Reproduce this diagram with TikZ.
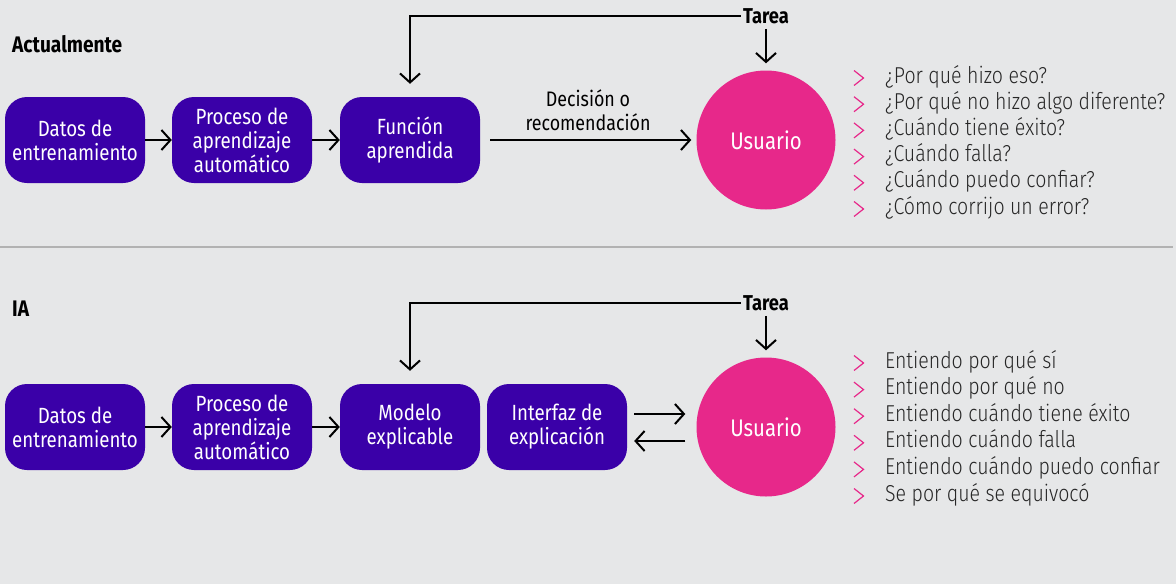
\documentclass[tikz,border=0pt]{standalone}
\usepackage{fontspec}
\setmainfont{Fira Sans}[FakeStretch=0.85]
\newfontfamily\lightfont{Fira Sans Light}[FakeStretch=0.85]
\usetikzlibrary{arrows.meta}
\definecolor{bg}{HTML}{E6E7E8}
\definecolor{purp}{HTML}{3A00A8}
\definecolor{pinku}{HTML}{E7288A}
\definecolor{sepc}{HTML}{B2B2B2}
\begin{document}
\begin{tikzpicture}[x=1pt,y=-1pt,
  box/.style={fill=purp, rounded corners=22pt, minimum width=140pt, minimum height=86pt,
    text=white, align=center, font=\fontsize{22}{24}\selectfont, inner sep=0pt},
  user/.style={circle, fill=pinku, minimum size=139pt, text=white,
    font=\fontsize{24}{28}\selectfont, inner sep=0pt},
  arr/.style={draw=black, line width=2pt, -{Straight Barb[length=9pt,width=20pt,line width=2pt]}},
  tarea/.style={font=\bfseries\fontsize{21.5}{24}\selectfont, inner sep=2pt},
  section/.style={font=\bfseries\fontsize{22.5}{24}\selectfont, anchor=west, inner sep=0pt},
  item/.style={anchor=west, inner sep=0pt, text height=15pt, text depth=5pt,
    font=\lightfont\fontsize{23}{26}\selectfont, text=black!85},
  chev/.style={draw=pinku, line width=1.2pt}
]
\fill[bg] (0,0) rectangle (1176,584);
\useasboundingbox (0,0) rectangle (1176,584);
\draw[sepc, line width=1.5pt] (0,247) -- (1173,247);

% ---------- top section
\node[section] (s1) at (12,44) {Actualmente};
\node[box] (a1) at (75,140) {Datos de\\entrenamiento};
\node[box] (a2) at (242,140) {Proceso de\\aprendizaje\\automático};
\node[box] (a3) at (410,140) {Función\\aprendida};
\node[user] (u1) at (766,140) {Usuario};
\node[tarea] (t1) at (766,16) {Tarea};
\node[align=center, font=\fontsize{21}{24}\selectfont] (d1) at (588,110) {Decisión o\\recomendación};

\draw[arr] (a1) -- (a2);
\draw[arr] (a2) -- (a3);
\draw[arr] ([xshift=10pt]a3.east) -- ([xshift=-5pt]u1.west);
\draw[arr, shorten >=13pt] (t1.west) -| (a3.north);
\draw[arr, shorten <=3pt, shorten >=7pt] (t1.south) -- (u1.north);

\foreach \t [count=\i from 0] in {¿Por qué hizo eso?,¿Por qué no hizo algo diferente?,¿Cuándo tiene éxito?,¿Cuándo falla?,¿Cuándo puedo confiar?,¿Cómo corrijo un error?}{
  \node[item] (q\i) at (885,78+26.2*\i) {\t};
  \draw[chev] ([xshift=-31pt,yshift=7.5pt]q\i.west) -- ++(9.5pt,-7.5pt) -- ++(-9.5pt,-7.5pt);
}

% ---------- bottom section
\node[section] (s2) at (12,309) {IA};
\node[box] (b1) at (75,427) {Datos de\\entrenamiento};
\node[box] (b2) at (242,427) {Proceso de\\aprendizaje\\automático};
\node[box] (b3) at (410,427) {Modelo\\explicable};
\node[box] (b4) at (557,427) {Interfaz de\\explicación};
\node[user] (u2) at (766,427) {Usuario};
\node[tarea] (t2) at (766,303) {Tarea};

\draw[arr] (b1) -- (b2);
\draw[arr] (b2) -- (b3);
\draw[arr] ([shift={(7pt,13pt)}]b4.east) -- ([shift={(-11pt,13pt)}]u2.west);
\draw[arr] ([shift={(-11pt,-14pt)}]u2.west) -- ([shift={(7pt,-14pt)}]b4.east);
\draw[arr, shorten >=13pt] (t2.west) -| (b3.north);
\draw[arr, shorten <=3pt, shorten >=7pt] (t2.south) -- (u2.north);

\foreach \t [count=\i from 0] in {Entiendo por qué sí,Entiendo por qué no,Entiendo cuándo tiene éxito,Entiendo cuándo falla,Entiendo cuándo puedo confiar,Se por qué se equivocó}{
  \node[item] (r\i) at (885,363+26.6*\i) {\t};
  \draw[chev] ([xshift=-31pt,yshift=7.5pt]r\i.west) -- ++(9.5pt,-7.5pt) -- ++(-9.5pt,-7.5pt);
}
\end{tikzpicture}
\end{document}
